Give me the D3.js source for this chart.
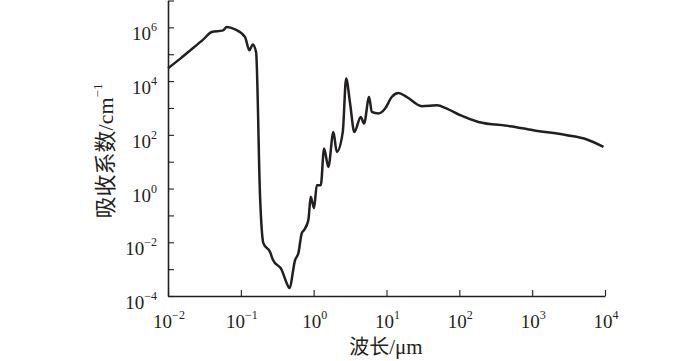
<!DOCTYPE html>
<html>
<head>
<meta charset="utf-8">
<script src="https://cdn.jsdelivr.net/npm/d3@7"></script>
<style>
  body { margin: 0; background: #fff; }
  svg { display: block; }
</style>
</head>
<body>
<svg id="chart" width="700" height="361"></svg>
<script>
// wavelength in um, absorption coefficient in cm^-1
const wavelength = [0.01, 0.0146, 0.0223, 0.0306, 0.0398, 0.0569, 0.064, 0.0832, 0.1143, 0.131, 0.1455, 0.162,
  0.1837, 0.2037, 0.252, 0.2767, 0.3645, 0.4266, 0.4635, 0.556, 0.617, 0.687, 0.738, 0.845, 0.912, 1.013,
  1.103, 1.252, 1.39, 1.592, 1.866, 2.076, 2.51, 2.79, 3.16, 3.62, 4.43, 4.92, 5.77, 6.28, 7.74, 9.58,
  11.8, 14.6, 19.0, 30.5, 49.1, 67.3, 102.6, 183, 499, 1033, 3000, 5640, 9530];
const absorption = [3.0e4, 6.7e4, 1.73e5, 3.58e5, 6.7e5, 7.7e5, 1.03e6, 8.4e5, 4.35e5, 1.4e5, 2.28e5, 1.18e5,
  0.48, 0.0093, 0.00433, 0.00218, 9.3e-4, 3.0e-4, 1.98e-4, 2.18e-3, 3.97e-3, 0.022, 0.0284, 0.0668, 0.49, 0.187,
  1.34, 1.34, 31, 6.4, 128, 23, 128, 1.24e4, 1.5e3, 128, 463, 263, 2560, 710, 620, 950,
  2560, 3600, 2560, 1160, 1260, 950, 536, 302, 209, 148, 97, 67, 35.5];

const xDecades = [-2, -1, 0, 1, 2, 3, 4];
const yDecades = [-4, -3, -2, -1, 0, 1, 2, 3, 4, 5, 6, 7];
const yLabelled = [-4, -2, 0, 2, 4, 6];

const svg = d3.select("#chart");
const serif = "'Liberation Serif', 'DejaVu Serif', serif";
const cjk = "'Noto Sans CJK SC', sans-serif";

const x = d3.scaleLog().domain([1e-2, 1e4]).range([168, 605]);
const y = d3.scaleLog().domain([1e-4, 1e7]).range([296, 0.5]);

function minors(decades) {
  let out = [];
  decades.slice(0, -1).forEach(e => {
    for (let k = 2; k <= 9; k++) out.push(k * Math.pow(10, e));
  });
  return out;
}

// axes, ticks pointing inwards
const gx = svg.append("g").attr("transform", "translate(0,296)");
gx.call(d3.axisBottom(x).tickValues(minors(xDecades)).tickSize(-3).tickSizeOuter(0).tickFormat(""));
gx.call(d3.axisBottom(x).tickValues(xDecades.map(e => Math.pow(10, e))).tickSize(-6).tickSizeOuter(0).tickFormat(""));

const gy = svg.append("g").attr("transform", "translate(168,0)");
gy.call(d3.axisLeft(y).tickValues(minors(yDecades)).tickSize(-3).tickSizeOuter(0).tickFormat(""));
gy.call(d3.axisLeft(y).tickValues(yDecades.map(e => Math.pow(10, e))).tickSize(-6).tickSizeOuter(0).tickFormat(""));

svg.selectAll(".domain").attr("stroke", "#231f20").attr("stroke-width", 1.6);
svg.selectAll(".tick line").attr("stroke", "#231f20").attr("stroke-width", 1.1);

function sup(e) { return e < 0 ? "\u2212" + (-e) : String(e); }

// tick labels
const xl = svg.append("g").selectAll("text").data(xDecades).join("text")
  .attr("x", d => x(Math.pow(10, d)) + 1)
  .attr("y", 328)
  .attr("text-anchor", "middle")
  .attr("font-family", serif).attr("font-size", 19).attr("fill", "#231f20");
xl.append("tspan").text("10");
xl.append("tspan").attr("font-size", 12).attr("dy", -9).text(d => sup(d));

const yl = svg.append("g").selectAll("text").data(yLabelled).join("text")
  .attr("x", 157)
  .attr("y", d => y(Math.pow(10, d)) + 13)
  .attr("text-anchor", "end")
  .attr("font-family", serif).attr("font-size", 19).attr("fill", "#231f20");
yl.append("tspan").text("10");
yl.append("tspan").attr("font-size", 12).attr("dy", -9).text(d => sup(d));

// axis titles
const xt = svg.append("text")
  .attr("x", 386).attr("y", 354).attr("text-anchor", "middle")
  .attr("fill", "#231f20");
xt.append("tspan").attr("font-family", cjk).attr("font-size", 20).text("波长");
xt.append("tspan").attr("font-family", serif).attr("font-size", 21).text("/μm");

const yt = svg.append("text")
  .attr("transform", "translate(113,151) rotate(-90)")
  .attr("text-anchor", "middle").attr("fill", "#231f20");
yt.append("tspan").attr("font-family", cjk).attr("font-size", 22).text("吸收系数");
yt.append("tspan").attr("font-family", serif).attr("font-size", 22).text("/cm");
yt.append("tspan").attr("font-family", serif).attr("font-size", 13).attr("dy", -11).text("\u22121");

// curve
const pts = wavelength.map((w, i) => [w, absorption[i]]);
svg.append("path")
  .datum(pts)
  .attr("fill", "none")
  .attr("stroke", "#231f20")
  .attr("stroke-width", 2.5)
  .attr("stroke-linejoin", "round")
  .attr("d", d3.line().x(d => x(d[0])).y(d => y(d[1])).curve(d3.curveMonotoneX));
</script>
</body>
</html>
